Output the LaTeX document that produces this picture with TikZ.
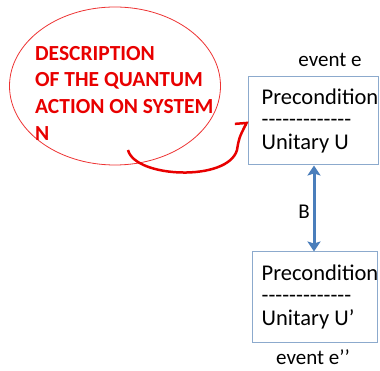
\documentclass[tikz,border=0pt]{standalone}
\usepackage{fontspec}
\setmainfont{Carlito}
\usetikzlibrary{shapes.geometric,arrows.meta}
\definecolor{boxblue}{RGB}{140,170,205}
\definecolor{linkblue}{RGB}{74,126,187}
\definecolor{descred}{RGB}{232,0,0}
\newcommand{\dashrow}{-{}-{}-{}-{}-{}-{}-{}-{}-{}-{}-{}-{}-}
\begin{document}
\begin{tikzpicture}[x=1pt,y=-1pt,
  descell/.style={draw=descred!80!white, ellipse, line width=0.8pt, minimum width=211pt, minimum height=158pt},
  evbox/.style={draw=boxblue, line width=1pt, minimum width=130pt, minimum height=88pt},
  evtext/.style={anchor=west, align=left, inner sep=0pt, font=\fontsize{22.5}{22.5}\selectfont},
  evlabel/.style={inner sep=0pt, font=\fontsize{21}{24}\selectfont},
  linkarrow/.style={linkblue, line width=3pt, {Stealth[length=10pt,width=13pt,inset=2pt]}-{Stealth[length=10pt,width=13pt,inset=2pt]}},
  actarrow/.style={descred, line width=2.5pt, -{Straight Barb[left,length=6pt,width=20pt]}}]
\useasboundingbox (0,0) rectangle (380,371);
%%% the quantum action on N
\node[descell] (desc) at (115,86) {};
\node[anchor=north west, align=left, inner sep=0pt, text=descred,
  font=\bfseries\fontsize{21.5}{26.6}\selectfont] (desctxt) at (35,46)
  {DESCRIPTION\\OF THE QUANTUM\\ACTION ON SYSTEM\\N};
%%% event e
\node[evbox] (evtop) at (313,121) {};
\node[evtext] (evtoptxt) at ([xshift=14pt]evtop.west) {Precondition\\\dashrow\\Unitary U};
\node[evlabel] (evtoplab) at (330,60) {event e};
%%% event e''
\node[evbox, minimum width=125pt, minimum height=90pt] (evbot) at (314.5,297) {};
\node[evtext] (evbottxt) at ([xshift=10pt]evbot.west) {Precondition\\\dashrow\\Unitary U’};
\node[evlabel] (evbotlab) at (313,357) {event e’’};
% \draw[thick] (evtop) -- (evbot);
\draw[linkarrow] ([xshift=1pt]evtop.south) -- ([xshift=1pt]evtop.south |- evbot.north);
\node[evlabel] (blab) at (304,212) {B};
\coordinate (actstart) at (128,150);
\draw[actarrow] (actstart) .. controls (135,178) and (228,182) .. (237,150)
  .. controls (239,138) .. (evtop.west);
\end{tikzpicture}
\end{document}
